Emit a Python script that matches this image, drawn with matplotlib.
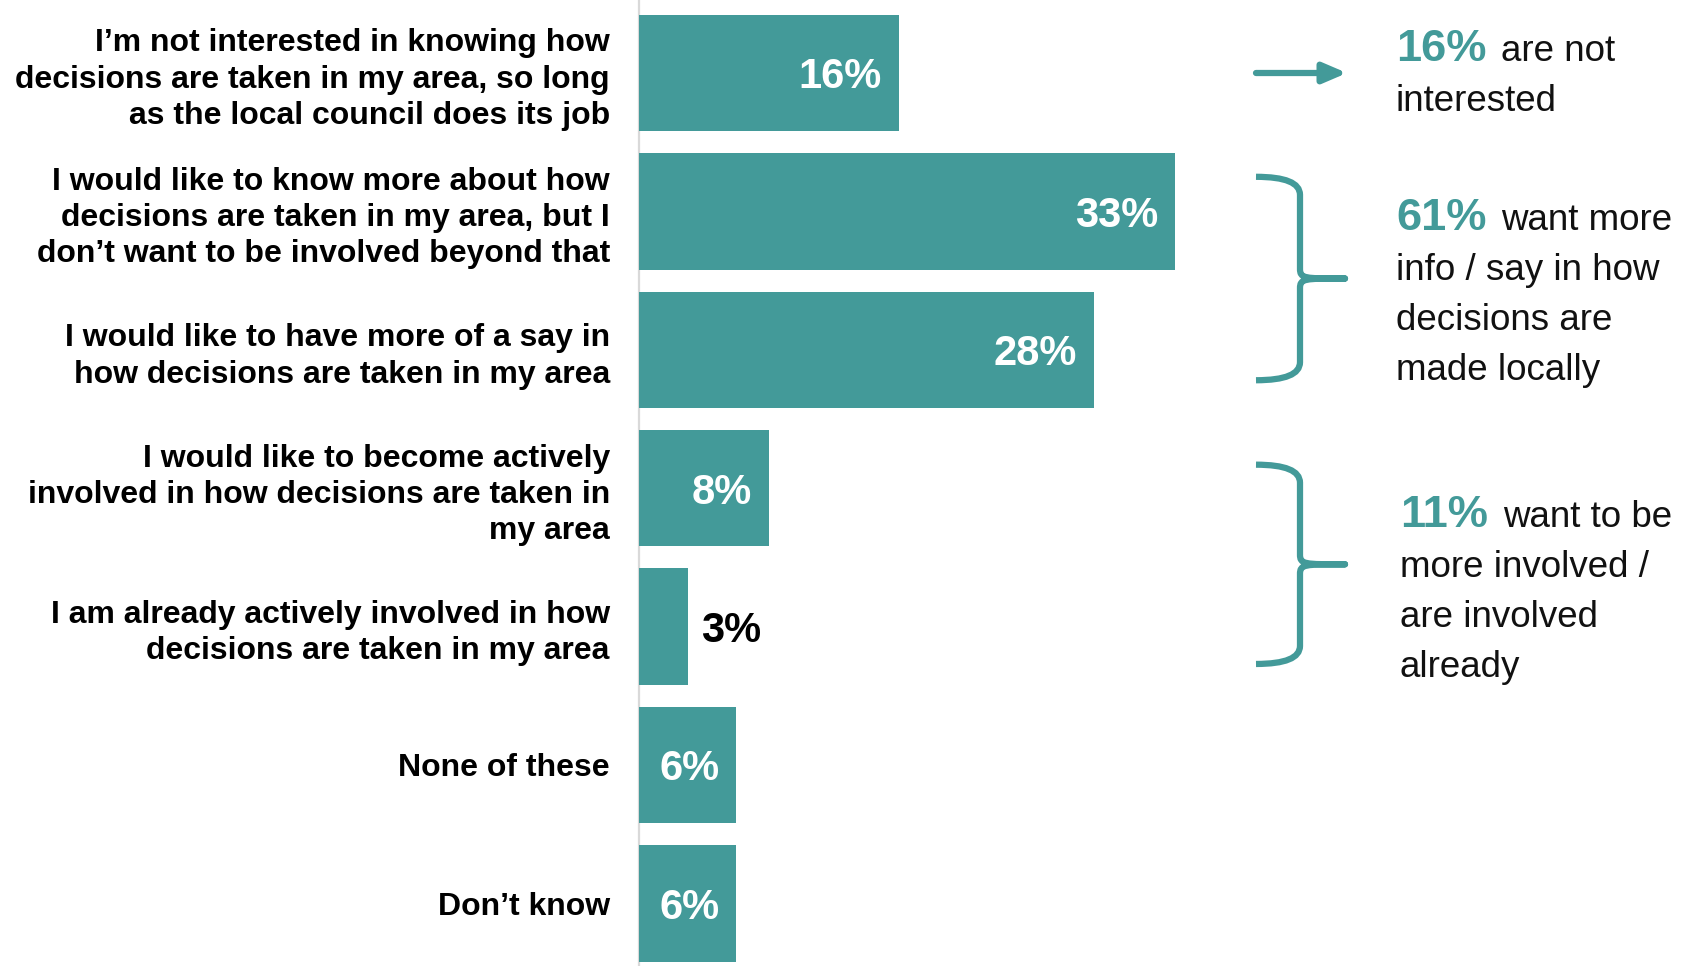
import matplotlib.pyplot as plt
from matplotlib.path import Path
from matplotlib.patches import PathPatch
import matplotlib.transforms as mtransforms

# survey answers, top to bottom
labels = [
    "I\u2019m not interested in knowing how\ndecisions are taken in my area, so long\nas the local council does its job",
    "I would like to know more about how\ndecisions are taken in my area, but I\ndon\u2019t want to be involved beyond that",
    "I would like to have more of a say in\nhow decisions are taken in my area",
    "I would like to become actively\ninvolved in how decisions are taken in\nmy area",
    "I am already actively involved in how\ndecisions are taken in my area",
    "None of these",
    "Don\u2019t know",
]
values = [16, 33, 28, 8, 3, 6, 6]

# right hand summary groups: (first bar, last bar, headline, text lines)
group_rows = [(0, 0), (1, 2), (3, 4)]
group_heads = ["16%", "61%", "11%"]
group_first = ["are not", "want more", "want to be"]
group_rest = [
    ["interested"],
    ["info / say in how", "decisions are", "made locally"],
    ["more involved /", "are involved", "already"],
]

TEAL = "#439a99"
W, H = 1706, 966
plt.rcParams['font.family'] = ['Liberation Sans', 'DejaVu Sans']

fig = plt.figure(figsize=(W / 100, H / 100), dpi=100)
ax = fig.add_axes([639 / W, 0, 1 - 639 / W, 1])
px_per_pct = 16.25
px_per_row = 138.4
ax.set_xlim(0, (W - 639) / px_per_pct)
ax.set_ylim(6 + (H - 903.4) / px_per_row, -73 / px_per_row)

rows = list(range(len(values)))
ax.barh(rows, values, height=0.84, color=TEAL, zorder=3)

ax.set_yticks(rows, labels, fontsize=23, fontweight='bold')
ax.tick_params(axis='y', length=0, pad=21)
for t in ax.get_yticklabels():
    t.set_linespacing(1.27)
    t.set_multialignment('right')
ax.set_xticks([])
for s in ['top', 'right', 'bottom']:
    ax.spines[s].set_visible(False)
ax.spines['left'].set_color('#d9d9d9')
ax.spines['left'].set_linewidth(1.6)

# value labels
for r, v in zip(rows, values):
    if v >= 5:
        ax.text(v - 17 / px_per_pct, r, f"{v}%", ha='right', va='center_baseline',
                color='white', fontsize=30, fontweight='bold', zorder=4)
    else:
        ax.text(v + 13 / px_per_pct, r, f"{v}%", ha='left', va='center_baseline',
                color='black', fontsize=30, fontweight='bold', zorder=4)

# annotations on the right: x in axes fraction, y in data
trans = mtransforms.blended_transform_factory(ax.transAxes, ax.transData)


def ax_x(px):
    return (px - 639) / (W - 639)


def brace(y_top, y_bot):
    x0, x1, x2 = ax_x(1256), ax_x(1300), ax_x(1345)
    xm = ax_x(1304)
    ym = (y_top + y_bot) / 2
    r = 0.13
    c = 0.07
    verts = [
        (x0, y_top), (x1, y_top), (x1, y_top + r),
        (x1, ym - c),
        (x1, ym), (xm, ym), (x2, ym),
        (xm, ym), (x1, ym), (x1, ym + c),
        (x1, y_bot - r),
        (x1, y_bot), (x0, y_bot),
    ]
    codes = [Path.MOVETO, Path.CURVE3, Path.CURVE3,
             Path.LINETO,
             Path.CURVE4, Path.CURVE4, Path.CURVE4,
             Path.CURVE4, Path.CURVE4, Path.CURVE4,
             Path.LINETO,
             Path.CURVE3, Path.CURVE3]
    ax.add_patch(PathPatch(Path(verts, codes), transform=trans, fill=False,
                           edgecolor=TEAL, lw=4.5, capstyle='butt',
                           joinstyle='round', clip_on=False))


brace_pad = [None, (0.25, 0.22), (0.17, 0.27)]
for (a, b), pad in zip(group_rows, brace_pad):
    if a == b:
        ax.annotate('', xy=(ax_x(1347), a), xytext=(ax_x(1256), a),
                    xycoords=trans, textcoords=trans,
                    arrowprops=dict(arrowstyle='-|>,head_length=1.4,head_width=0.6',
                                    lw=4.5, color=TEAL, shrinkA=0, shrinkB=0))
    else:
        brace(a - pad[0], b + pad[1])

# summary text blocks, baselines in pixels
block_x = [1396, 1396, 1400]
block_base = [61, 230, 527]
pitch = 50
renderer = fig.canvas.get_renderer()
for i in range(len(group_heads)):
    x = block_x[i] / W
    y = 1 - block_base[i] / H
    t = fig.text(x, y, group_heads[i], ha='left', va='baseline', color=TEAL,
                 fontsize=32.5, fontweight='bold')
    bb = t.get_window_extent(renderer)
    fig.text((bb.x1 + 15) / W, y, group_first[i], ha='left', va='baseline',
             color='#111111', fontsize=26.5)
    for k, line in enumerate(group_rest[i]):
        fig.text(x, 1 - (block_base[i] + pitch * (k + 1)) / H, line,
                 ha='left', va='baseline', color='#111111', fontsize=26.5)

fig.savefig('out.png', dpi=100)
